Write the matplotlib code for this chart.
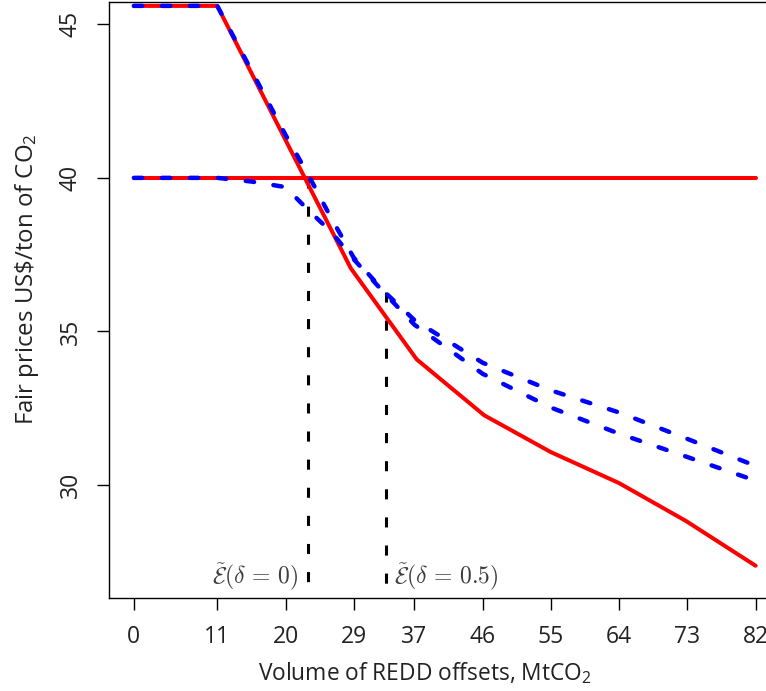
import matplotlib
matplotlib.use('Agg')
import matplotlib.pyplot as plt

# tick positions on the volume axis
x_ticks = [0, 11, 20, 29, 37, 46, 55, 64, 73, 82]
y_ticks = [30, 35, 40, 45]

# red solid curves
red_x = [0, 11, 28.6, 37.3, 46.2, 55, 64, 72.8, 82]
red_y = [45.6, 45.6, 37.06, 34.09, 32.27, 31.07, 30.06, 28.83, 27.37]
flat_x = [0, 82]
flat_y = [40, 40]

# blue dashed curves
blue_up_x = [0, 11, 20, 23, 26, 29, 33, 37, 46, 55, 64, 73, 82]
blue_up_y = [45.6, 45.6, 41.4, 40.1, 38.7, 37.4, 36.3, 35.37, 33.98, 33.08, 32.36, 31.5, 30.62]
blue_lo_x = [0, 11, 15.5, 20, 23, 26, 29, 33, 37, 46, 55, 64, 73, 82]
blue_lo_y = [40, 40, 39.88, 39.7, 38.95, 38.25, 37.35, 36.26, 35.22, 33.62, 32.52, 31.67, 30.91, 30.14]

# black dashed cut-off lines
cut_x = [22.9, 33.3]
cut_top = [40.0, 36.27]
cut_labels = [r'$\tilde{\mathcal{E}}(\delta\,=\,0)$', r'$\tilde{\mathcal{E}}(\delta\,=\,0.5)$']

plt.rcParams['font.family'] = ['Open Sans', 'DejaVu Sans']
plt.rcParams['mathtext.fontset'] = 'custom'
plt.rcParams['mathtext.rm'] = 'Open Sans'
plt.rcParams['mathtext.it'] = 'Open Sans:italic'

fig = plt.figure(figsize=(7.66, 6.91), dpi=100)
ax = fig.add_axes([109 / 766, 1 - 598.3 / 691, 671.5 / 766, 596.1 / 691])
ax.set_xlim(-3.28, 85.28)
ax.set_ylim(26.31, 45.72)

ylo = ax.get_ylim()[0]
for cx, ct in zip(cut_x, cut_top):
    ax.plot([cx, cx], [ct, ylo], color='black', lw=2.2, dashes=(3.3, 5.9), zorder=1)

ax.plot(flat_x, flat_y, color='red', lw=2.9, solid_capstyle='round', zorder=2)
ax.plot(red_x, red_y, color='red', lw=2.9, solid_capstyle='round', zorder=2)
ax.plot(blue_up_x, blue_up_y, color='blue', lw=3.2, dashes=(1.9, 4.4), dash_capstyle='round', zorder=3)
ax.plot(blue_lo_x, blue_lo_y, color='blue', lw=3.2, dashes=(1.9, 4.4), dash_capstyle='round', zorder=3)

ax.text(21.75, 26.8, cut_labels[0], ha='right', va='baseline', fontsize=17,
        color='#3c3c46', math_fontfamily='cm')
ax.text(34.25, 26.8, cut_labels[1], ha='left', va='baseline', fontsize=17,
        color='#3c3c46', math_fontfamily='cm')

ax.spines['right'].set_visible(False)
for s in ['left', 'bottom', 'top']:
    ax.spines[s].set_linewidth(1.0)

ax.set_xticks(x_ticks)
ax.set_xticklabels([str(v) for v in x_ticks])
ax.set_yticks(y_ticks)
ax.set_yticklabels([str(v) for v in y_ticks], rotation=90, va='center')
ax.tick_params(axis='both', direction='out', length=8.6, width=1.0, pad=10.5,
               labelsize=16.5, colors='black', labelcolor='#222222')

fig.text(425 / 766, 1 - 680 / 691, 'Volume of REDD offsets, MtCO$_2$', ha='center',
         va='baseline', fontsize=16.4, color='#222222')
fig.text(33 / 766, 1 - 279 / 691, 'Fair prices US$\\$$/ton of CO$_2$', ha='center',
         va='baseline', rotation=90, rotation_mode='anchor', fontsize=17.3, color='#222222')

fig.savefig('out.png', dpi=100)
